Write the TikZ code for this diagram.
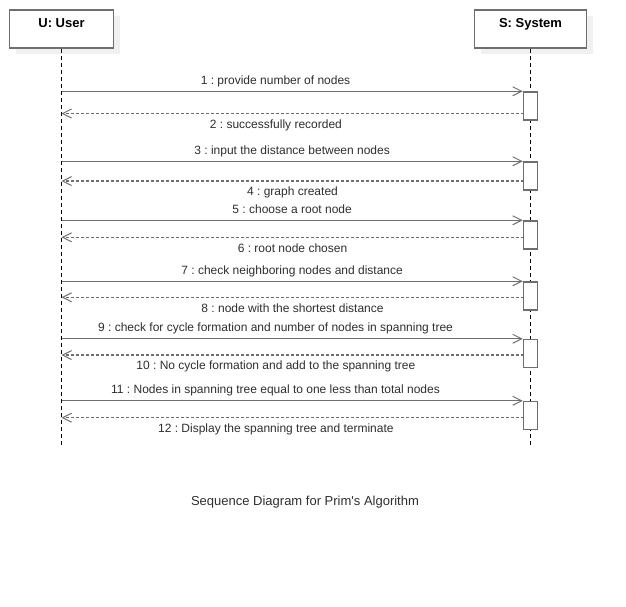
\documentclass[tikz,border=0pt]{standalone}
\usepackage{fontspec}
\setmainfont{Liberation Sans}
\usetikzlibrary{arrows.meta,shadows}
\frenchspacing

\definecolor{umlgray}{HTML}{6E6E6E}
\definecolor{umltext}{HTML}{2E2E2E}

\begin{document}
\begin{tikzpicture}[x=1pt,y=-1pt,
	obj/.style={draw=umlgray,line width=1.7pt,fill=white,minimum height=38.6pt,inner sep=0pt,
		drop shadow={shadow xshift=6pt,shadow yshift=-6pt,fill=black!6,opacity=1}},
	head/.style={font=\fontsize{13}{15}\selectfont\bfseries,text=black,anchor=base,yshift=-18.6pt},
	lifeline/.style={line width=.9pt,dash pattern=on 4pt off 3pt},
	act/.style={draw=umlgray,line width=1.5pt,fill=white,minimum width=14pt,minimum height=28pt,inner sep=0pt},
	call/.style={draw=umlgray,line width=1.4pt,-{Straight Barb[length=9pt,width=9pt,line width=1pt]}},
	reply/.style={call,dash pattern=on 3pt off 2pt},
	msg/.style={font=\fontsize{12}{14}\selectfont,text=umltext,inner sep=0pt,text height=9pt,text depth=3pt}
]
\useasboundingbox (0,0) rectangle (626,606);

% participants and lifelines
\node[obj,minimum width=104pt,label={[head]north:{U: User}}] (user) at (61.5,29) {};
\node[obj,minimum width=112pt,label={[head]north:{S: System}}] (sys) at (530.5,29) {};
\coordinate (uend) at (61.5,448);
\coordinate (send) at (530.5,448);
\draw[lifeline] (user.south) -- (uend);
\draw[lifeline] (sys.south) -- (send);

% activations
\node[act] (a1) at (530.5,106) {};
\node[act] (a2) at (530.5,176) {};
\node[act] (a3) at (530.5,235) {};
\node[act] (a4) at (530.5,296) {};
\node[act] (a5) at (530.5,353.5) {};
\node[act] (a6) at (530.5,415.5) {};

% reply points
\coordinate (r1) at (523.5,113.5);
\coordinate (r2) at (523.5,181);
\coordinate (r3) at (523.5,237.3);
\coordinate (r4) at (523.5,297.3);
\coordinate (r5) at (523.5,355);
\coordinate (r6) at (523.5,417.7);

\path
(user.south |- a1.north west) edge[call] node[msg,above=3.5pt,pos=.464] {1 : provide number of nodes} (a1.north west)
(r1) edge[reply] node[msg,below=5pt,pos=.536] {2 : successfully recorded} (user.south |- r1)
(user.south |- a2.north west) edge[call] node[msg,above=3.5pt] {3 : input the distance between nodes} (a2.north west)
(r2) edge[reply] node[msg,below=5pt] {4 : graph created} (user.south |- r2)
(user.south |- a3.north west) edge[call] node[msg,above=3.5pt] {5 : choose a root node} (a3.north west)
(r3) edge[reply] node[msg,below=5pt] {6 : root node chosen} (user.south |- r3)
(user.south |- a4.north west) edge[call] node[msg,above=3.5pt] {7 : check neighboring nodes and distance} (a4.north west)
(r4) edge[reply] node[msg,below=5pt] {8 : node with the shortest distance} (user.south |- r4)
(user.south |- a5.north west) edge[call] node[msg,above=3.5pt,pos=.464] {9 : check for cycle formation and number of nodes in spanning tree} (a5.north west)
(r5) edge[reply] node[msg,below=5pt,pos=.536] {10 : No cycle formation and add to the spanning tree} (user.south |- r5)
(user.south |- a6.north west) edge[call] node[msg,above=3.5pt,pos=.464] {11 : Nodes in spanning tree equal to one less than total nodes} (a6.north west)
(r6) edge[reply] node[msg,below=5pt,pos=.536] {12 : Display the spanning tree and terminate} (user.south |- r6)
;

\node[font=\fontsize{13}{15}\selectfont,text=umltext,anchor=base] (caption) at (305,505.5) {Sequence Diagram for Prim\textquotesingle s Algorithm};
\end{tikzpicture}
\end{document}
